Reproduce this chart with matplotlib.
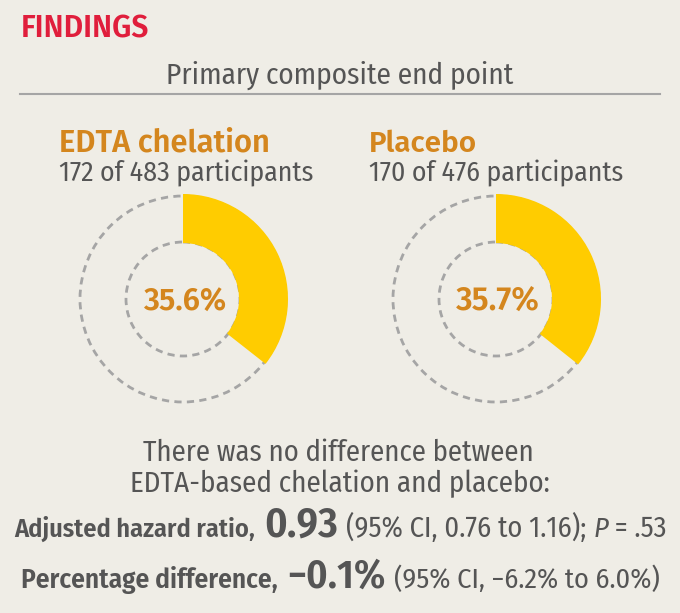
import matplotlib
matplotlib.use('Agg')
import matplotlib.pyplot as plt
from matplotlib.patches import Wedge, Circle

# data
groups = ['EDTA chelation', 'Placebo']
events = [172, 170]
totals = [483, 476]
pcts = [35.6, 35.7]
hr_text = ['0.93', '0.76', '1.16', '.53']
diff_text = ['\u22120.1%', '\u22126.2%', '6.0%']

bg = '#EFEDE6'
red = '#E01E3C'
orange = '#D4861E'
yellow = '#FFCC00'
grey_txt = '#555555'
dash_grey = '#A5A5A5'
B = 'semibold'
N = 'normal'
COND = ['Fira Sans Condensed', 'Barlow Semi Condensed', 'Roboto', 'DejaVu Sans']
WIDE = ['Fira Sans', 'Roboto', 'DejaVu Sans']

plt.rcParams['font.family'] = COND

fig = plt.figure(figsize=(6.8, 6.13), dpi=100, facecolor=bg)
ax = fig.add_axes([0, 0, 1, 1])
ax.set_xlim(0, 680)
ax.set_ylim(613, 0)
ax.set_aspect('equal')
ax.axis('off')
ax.set_facecolor(bg)
renderer = fig.canvas.get_renderer()


def put(x0, y, pieces, width, color=grey_txt, ha='left', bold_fam=WIDE):
    # pieces: (text, relative size, weight, style); scaled so the run spans `width` px
    texts = []
    for s, rel, weight, style in pieces:
        t = ax.text(0, y, s, color=color, fontsize=10 * rel, fontweight=weight,
                    fontstyle=style, va='baseline', ha='left',
                    family=bold_fam if weight == B else COND)
        texts.append(t)
    w0 = sum(t.get_window_extent(renderer).width for t in texts)
    k = width / w0
    for t, (s, rel, weight, style) in zip(texts, pieces):
        t.set_fontsize(10 * rel * k)
    widths = [t.get_window_extent(renderer).width for t in texts]
    x = x0 - sum(widths) / 2 if ha == 'center' else x0
    for t, w in zip(texts, widths):
        t.set_x(x)
        x += w
    return texts


put(21, 38, [('FINDINGS', 1, B, N)], 128, color=red)
put(340, 84, [('Primary composite end point', 1, N, N)], 347, ha='center')
ax.plot([20, 660], [94, 94], color='#A5A5A5', lw=1.5)

centers = [183, 496]
label_x = [59, 369]
r_out, r_in = 103, 57
for i in range(len(groups)):
    cx, cy = centers[i], 299
    put(label_x[i], 152, [(groups[i], 1, B, N)],
        211 if i == 0 else 108, color=orange)
    put(label_x[i], 181, [(f'{events[i]} of {totals[i]} participants', 1, N, N)], 254)
    for r in (r_out, r_in):
        ax.add_patch(Circle((cx, cy), r, fill=False, ec=dash_grey, lw=2.0,
                            ls=(0, (2.6, 1.9))))
    ax.add_patch(Wedge((cx, cy), r_out + 2, -90, -90 + 360 * pcts[i] / 100,
                       width=r_out - r_in + 3, fc=yellow, ec='none'))
    put(cx + 2, 310, [(f'{pcts[i]}%', 1, B, N)], 84, color=orange, ha='center')

put(338, 461, [('There was no difference between', 1, N, N)], 390, ha='center')
put(340, 492, [('EDTA-based chelation and placebo:', 1, N, N)], 418, ha='center')

put(14, 537, [('Adjusted hazard ratio,', 1, B, N)], 242, bold_fam=COND)
put(264, 537, [(hr_text[0], 1, B, N)], 74, bold_fam=COND)
put(346, 537, [(f'(95% CI, {hr_text[1]} to {hr_text[2]}); ', 1, N, N),
               ('P', 1, N, 'italic'),
               (f' = {hr_text[3]}', 1, N, N)], 320)

put(21, 588, [('Percentage difference,', 1, B, N)], 259, bold_fam=COND)
put(287, 588, [(diff_text[0], 1, B, N)], 99, bold_fam=COND)
put(394, 588, [(f'(95% CI, {diff_text[1]} to {diff_text[2]})', 1, N, N)], 267)

fig.savefig('out.png', dpi=100, facecolor=bg)
